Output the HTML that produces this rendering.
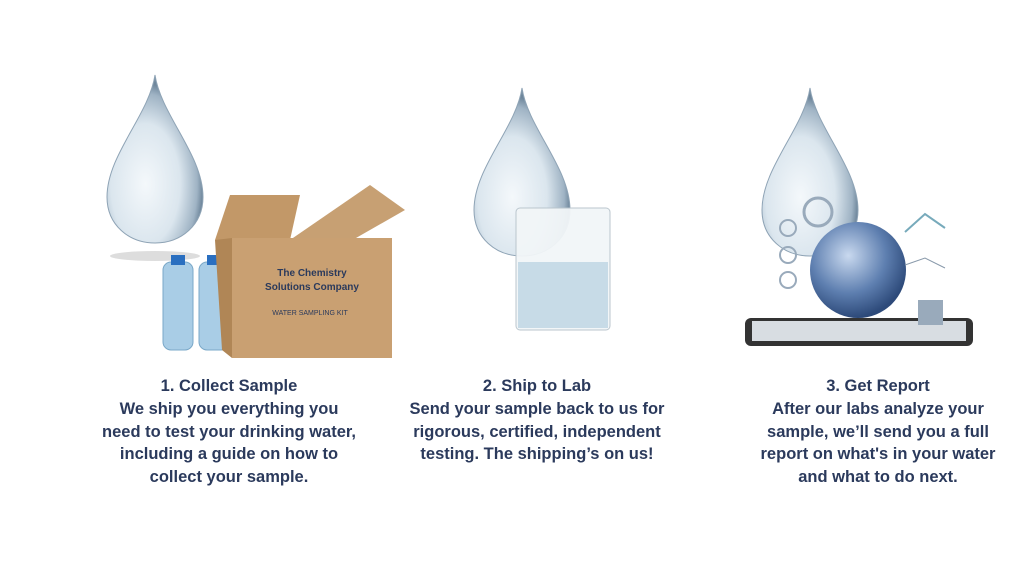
<!DOCTYPE html>
<html><head><style>
body{margin:0;width:1024px;height:576px;background:#fff;overflow:hidden;position:relative;font-family:"Liberation Sans",sans-serif}
.t{position:absolute;top:375px;width:340px;text-align:center;color:#2b3a5c;font-weight:bold;font-size:16.5px;line-height:22.8px}
</style></head><body>
<svg width="1024" height="576" style="position:absolute;left:0;top:0">
<defs>
<radialGradient id="d" cx="40%" cy="65%" r="60%">
<stop offset="0" stop-color="#f4f8fb"/><stop offset="0.6" stop-color="#dbe6ee"/><stop offset="0.9" stop-color="#9fb3c4"/><stop offset="1" stop-color="#6f879c"/></radialGradient>
<radialGradient id="g" cx="40%" cy="35%" r="65%"><stop offset="0" stop-color="#c9d9ef"/><stop offset="0.6" stop-color="#5e7fb0"/><stop offset="1" stop-color="#2d4a7a"/></radialGradient>
<g id="drop"><path d="M0,0 C6,40 48,80 48,122 C48,150 26,168 0,168 C-26,168 -48,150 -48,122 C-48,80 -6,40 0,0Z" fill="url(#d)" stroke="#8ea3b5" stroke-width="1"/></g>
</defs>
<ellipse cx="155" cy="256" rx="45" ry="5" fill="#ddd"/>
<use href="#drop" x="155" y="75"/>
<rect x="163" y="262" width="30" height="88" rx="8" fill="#a9cde6" stroke="#7aa8c8"/>
<rect x="171" y="255" width="14" height="10" fill="#2a6fc0"/>
<rect x="199" y="262" width="30" height="88" rx="8" fill="#a9cde6" stroke="#7aa8c8"/>
<rect x="207" y="255" width="14" height="10" fill="#2a6fc0"/>
<polygon points="215,240 230,195 300,195 290,240" fill="#c29868"/>
<polygon points="290,240 370,185 405,210 335,250" fill="#c7a073"/>
<rect x="232" y="238" width="160" height="120" fill="#c9a072"/>
<polygon points="215,240 232,238 232,358 222,350" fill="#b08656"/>
<text x="312" y="276" font-size="10" font-weight="bold" fill="#2b3a5c" text-anchor="middle" font-family="Liberation Sans">The Chemistry</text>
<text x="312" y="290" font-size="10" font-weight="bold" fill="#2b3a5c" text-anchor="middle" font-family="Liberation Sans">Solutions Company</text>
<text x="310" y="315" font-size="7" fill="#2b3a5c" text-anchor="middle" font-family="Liberation Sans">WATER SAMPLING KIT</text>
<use href="#drop" x="522" y="88"/>
<rect x="516" y="208" width="94" height="122" rx="4" fill="#f2f6f8" stroke="#b8c4cc" opacity="0.95"/>
<rect x="518" y="262" width="90" height="66" fill="#c7dbe7"/>
<use href="#drop" x="810" y="88"/>
<rect x="745" y="318" width="228" height="28" rx="6" fill="#333"/>
<rect x="752" y="321" width="214" height="20" fill="#d8dde2"/>
<circle cx="858" cy="270" r="48" fill="url(#g)"/>
<circle cx="818" cy="212" r="14" fill="none" stroke="#9ab" stroke-width="3"/>
<circle cx="788" cy="228" r="8" fill="none" stroke="#9ab" stroke-width="2"/>
<circle cx="788" cy="255" r="8" fill="none" stroke="#9ab" stroke-width="2"/>
<circle cx="788" cy="280" r="8" fill="none" stroke="#9ab" stroke-width="2"/>
<path d="M905,232 L925,214 L945,228" fill="none" stroke="#7ab" stroke-width="2"/>
<path d="M905,265 L925,258 L945,268" fill="none" stroke="#89a" stroke-width="1"/>
<rect x="918" y="300" width="25" height="25" fill="#9ab"/>
</svg>
<div class="t" style="left:59px">1. Collect Sample<br>We ship you everything you<br>need to test your drinking water,<br>including a guide on how to<br>collect your sample.</div>
<div class="t" style="left:367px">2. Ship to Lab<br>Send your sample back to us for<br>rigorous, certified, independent<br>testing. The shipping’s on us!</div>
<div class="t" style="left:708px">3. Get Report<br>After our labs analyze your<br>sample, we’ll send you a full<br>report on what's in your water<br>and what to do next.</div>
</body></html>
